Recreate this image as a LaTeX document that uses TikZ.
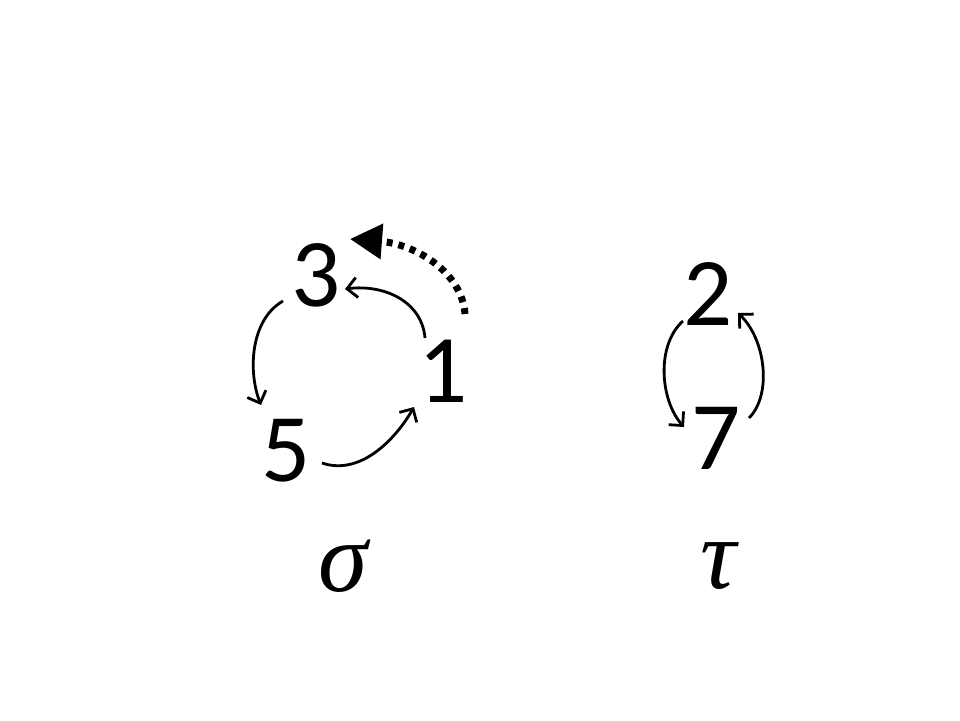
\documentclass[tikz,border=0pt]{standalone}
\usepackage{fontspec}
\setmainfont{Carlito}
\newfontfamily\greekfont{Liberation Serif}
\usetikzlibrary{arrows.meta}
\begin{document}
\begin{tikzpicture}[x=1pt,y=-1pt,
  digit/.style={inner sep=0pt,font=\fontsize{97}{97}\selectfont},
  greek/.style={inner sep=0pt,font=\greekfont\itshape\fontsize{100}{100}\selectfont},
  arr/.style={line width=2.8pt,-{Straight Barb[length=10pt,width=20pt,line width=2.8pt]}},
  dotarr/.style={line width=7pt,dash pattern=on 6pt off 6pt,-{Triangle[length=32pt,width=34pt]}}]
\useasboundingbox (0,0) rectangle (960,720);
\node[digit] (n3) at (316,275) {3};
\node[digit] (n1) at (443,371) {1};
\node[digit] (n5) at (286,451) {5};
\node[digit] (n2) at (708,294) {2};
\node[digit] (n7) at (716,438) {7};
\node[greek] (s) at (343,566) {σ};
\node[greek] (t) at (718,566) {τ};
% arrow endpoints
\coordinate (a13s) at (425,338);
\coordinate (a13e) at (345,289);
\coordinate (a35s) at (283,301);
\coordinate (a35e) at (261,405);
\coordinate (a51s) at (322,463);
\coordinate (a51e) at (414,407);
\coordinate (ds) at (465,314);
\coordinate (de) at (350,239);
\coordinate (a27s) at (683,321);
\coordinate (a27e) at (684,427);
\coordinate (a72s) at (749,418);
\coordinate (a72e) at (738,313);
\draw[arr] (a13s) .. controls (422,302) and (385,284) .. (a13e);
\draw[arr] (a35s) .. controls (250,320) and (248,372) .. (a35e);
\draw[arr] (a51s) .. controls (360,476) and (395,440) .. (a51e);
\draw[dotarr] (ds) .. controls (462,272) and (415,244) .. (de);
\draw[arr] (a27s) .. controls (656,345) and (660,400) .. (a27e);
\draw[arr] (a72s) .. controls (772,395) and (766,340) .. (a72e);
\end{tikzpicture}
\end{document}
